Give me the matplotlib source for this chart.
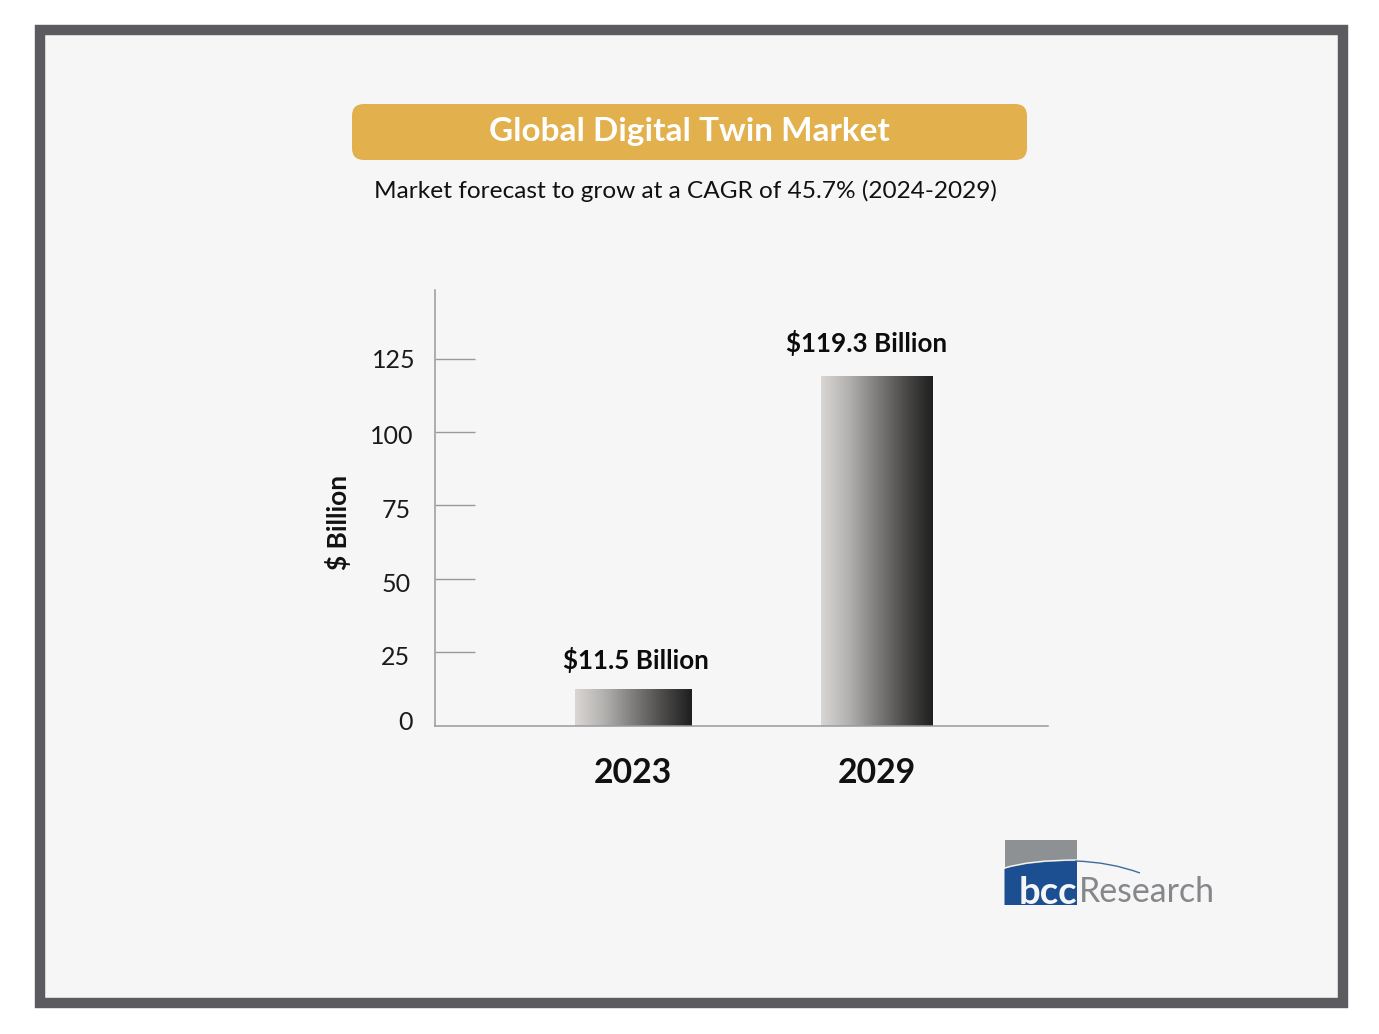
import numpy as np
import matplotlib
matplotlib.use("Agg")
import matplotlib.pyplot as plt
from matplotlib.patches import Rectangle, FancyBboxPatch, PathPatch
from matplotlib.path import Path
from matplotlib.colors import LinearSegmentedColormap
from matplotlib.transforms import ScaledTranslation

plt.rcParams['font.family'] = ['Lato', 'DejaVu Sans']

years = ['2023', '2029']
bar_heights = [12.4, 119.0]
bar_labels = ['$11.5 Billion', '$119.3 Billion']
bar_widths = [0.478, 0.456]
y_ticks = [0, 25, 50, 75, 100, 125]
title = 'Global Digital Twin Market'
subtitle = 'Market forecast to grow at a CAGR of 45.7% (2024-2029)'
y_label = '$ Billion'

# small hand placement of labels, in pixels (x right, y up for bars; y down for ticks)
label_shift_px = [(2.5, 16), (-10, 20)]
tick_label_shift_px = [(-1, -5), (-4, 3), (-3, 4), (-3, 3), (-1, 2), (1, 0)]

W, H = 1379, 1034
fig = plt.figure(figsize=(W / 100, H / 100), dpi=100, facecolor='white')

# full-figure pixel canvas (y downwards) for decoration
bg = fig.add_axes([0, 0, 1, 1], zorder=0)
bg.set_xlim(0, W)
bg.set_ylim(H, 0)
bg.axis('off')
bg.add_patch(Rectangle((40, 30), 1303, 973, fc='#f6f6f7', ec='#5c5c60', lw=7.5))
bg.add_patch(FancyBboxPatch((362, 114), 655, 36, boxstyle='round,pad=10,rounding_size=12',
                            fc='#e2b04d', ec='none'))
bg.text(689, 132, title, color='white', fontsize=24.05, fontweight='bold', ha='center', va='center')
bg.text(685, 191, subtitle, color='#111111', fontsize=17.6, ha='center', va='center')

# chart axes: 435..1048 px wide, 290..725.5 px tall
ax = fig.add_axes([435 / W, 1 - 725.5 / H, (1048 - 435) / W, (725.5 - 290) / H], zorder=1)
ax.patch.set_alpha(0)
ax.set_xlim(-0.813, 1.704)
ax.set_ylim(0, 435.5 / 2.935)
for s in ('top', 'right'):
    ax.spines[s].set_visible(False)
for s in ('left', 'bottom'):
    ax.spines[s].set_color('#9a9a9e')
    ax.spines[s].set_linewidth(1.1)

ax.set_yticks(y_ticks)
ax.set_yticklabels([str(v) for v in y_ticks], fontsize=18.0, color='#1a1a1a')
ax.tick_params(axis='y', direction='in', length=28.8, width=1.0, color='#9a9a9e', pad=15)
ax.yaxis.get_major_ticks()[0].tick1line.set_visible(False)
for lab, (dx, dy) in zip(ax.get_yticklabels(), tick_label_shift_px):
    lab.set_transform(lab.get_transform() + ScaledTranslation(dx / 100, -dy / 100, fig.dpi_scale_trans))
x = np.arange(len(years))
ax.set_xticks(x)
ax.set_xticklabels(years, fontsize=24.4, fontweight='bold', color='#111111')
ax.tick_params(axis='x', length=0, pad=23)
ax.set_ylabel(y_label, fontsize=18.9, fontweight='bold', color='#111111', va='center')
ax.yaxis.set_label_coords((338 - 435) / (1048 - 435), 0.467)

cmap = LinearSegmentedColormap.from_list(
    'bar', ['#d9d6d4', '#b3b1af', '#7f7d7c', '#4d4b4a', '#1f1f1f'])
grad = np.linspace(0, 1, 256).reshape(1, -1)
bars = ax.bar(x, bar_heights, width=bar_widths, color='none', edgecolor='none')
for bar, label, (dx, dy) in zip(bars, bar_labels, label_shift_px):
    x0, w, h = bar.get_x(), bar.get_width(), bar.get_height()
    ax.imshow(grad, cmap=cmap, extent=(x0, x0 + w, 0, h), aspect='auto', zorder=2)
    ax.annotate(label, (x0 + w / 2, h), xytext=(dx * 0.72, dy * 0.72), textcoords='offset points',
                ha='center', va='bottom', fontsize=18.7, fontweight='bold', color='#0c0c0c')
ax.set_xlim(-0.813, 1.704)
ax.set_ylim(0, 435.5 / 2.935)

# logo
bg.add_patch(Rectangle((1004.5, 840), 72.5, 30, fc='#8e9194', ec='none'))
blue = Path([(1004.5, 905), (1004.5, 869), (1030, 861), (1077, 861), (1077, 905), (1004.5, 905)],
            [Path.MOVETO, Path.LINETO, Path.CURVE3, Path.CURVE3, Path.LINETO, Path.CLOSEPOLY])
bg.add_patch(PathPatch(blue, fc='#1c4f91', ec='none', zorder=3))
edge = Path([(1004.5, 868), (1030, 860), (1077, 860)], [Path.MOVETO, Path.CURVE3, Path.CURVE3])
bg.add_patch(PathPatch(edge, fc='none', ec='#f6f6f7', lw=1.0, zorder=3))
swoosh = Path([(1075, 861), (1110, 862), (1140, 873)], [Path.MOVETO, Path.CURVE3, Path.CURVE3])
bg.add_patch(PathPatch(swoosh, fc='none', ec='#3f6a9f', lw=1.0, zorder=3))
bg.text(1048, 904, 'bcc', color='#f6f6f7', fontsize=27.5, fontweight='bold', ha='center',
        va='baseline', zorder=4)
bg.text(1079, 902.5, 'Research', color='#85878a', fontsize=24.4, ha='left', va='baseline', zorder=4)

fig.savefig('out.png', dpi=100, facecolor=fig.get_facecolor())
